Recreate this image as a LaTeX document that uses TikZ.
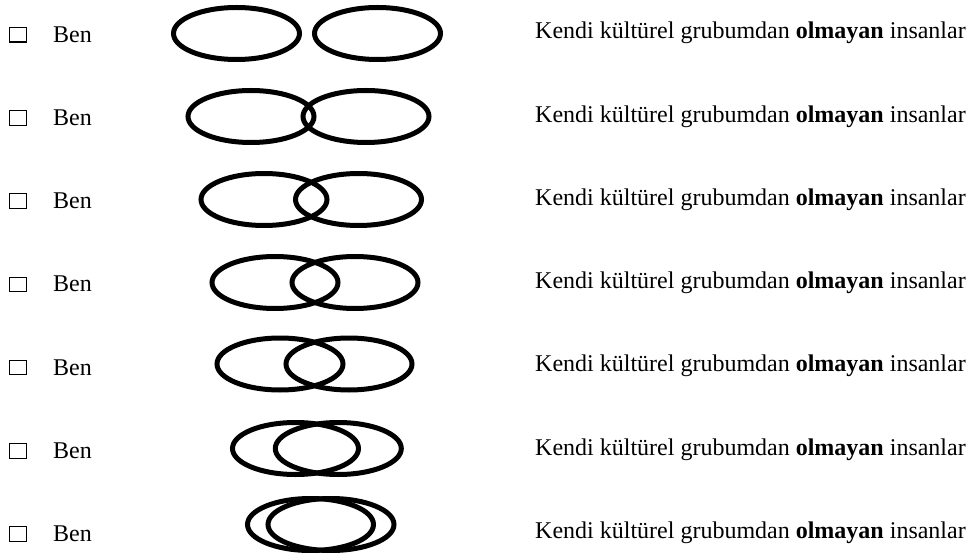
\documentclass[tikz,border=0pt]{standalone}
\usepackage{fontspec}
\setmainfont{Liberation Serif}
\usepackage{tikz}
\usetikzlibrary{shapes.geometric}

\begin{document}
\begin{tikzpicture}[x=1pt, y=-1pt, font=\fontsize{24}{28}\selectfont,
    ring/.style={ellipse, draw, line width=5pt, minimum width=126pt, minimum height=52pt, inner sep=0pt},
    tick/.style={draw, line width=1.1pt, minimum width=17pt, minimum height=14.5pt, inner sep=0pt},
    lbl/.style={anchor=base west, inner sep=0pt}]
      % scale: 1 unit = 1 pt, y grows downward
      \useasboundingbox (0,0) rectangle (974,553);
      % row 1: apart
      \node[tick] (box1) at (18, 34.8) {};
      \node[lbl] (me1) at (53, 42.3) {Ben};
      \node[ring] (selfA) at (236.5, 33.5) {};
      \node[ring] (othA) at (377.5, 33.5) {};
      \node[lbl] (them1) at (535, 39.0) {Kendi kültürel grubumdan \textbf{olmayan} insanlar};
      % row 2
      \node[tick] (box2) at (18, 118.0) {};
      \node[lbl] (me2) at (53, 125.5) {Ben};
      \node[ring] (selfB) at (251, 116.5) {};
      \node[ring] (othB) at (366, 116.5) {};
      \node[lbl] (them2) at (535, 122.2) {Kendi kültürel grubumdan \textbf{olmayan} insanlar};
      % row 3
      \node[tick] (box3) at (18, 201.2) {};
      \node[lbl] (me3) at (53, 208.7) {Ben};
      \node[ring] (selfC) at (264, 199.5) {};
      \node[ring] (othC) at (358.5, 199.5) {};
      \node[lbl] (them3) at (535, 205.4) {Kendi kültürel grubumdan \textbf{olmayan} insanlar};
      % row 4
      \node[tick] (box4) at (18, 284.4) {};
      \node[lbl] (me4) at (53, 291.9) {Ben};
      \node[ring] (selfD) at (275, 282.5) {};
      \node[ring] (othD) at (355, 282.5) {};
      \node[lbl] (them4) at (535, 288.6) {Kendi kültürel grubumdan \textbf{olmayan} insanlar};
      % row 5
      \node[tick] (box5) at (18, 367.6) {};
      \node[lbl] (me5) at (53, 375.1) {Ben};
      \node[ring] (selfE) at (280, 364) {};
      \node[ring] (othE) at (349, 364) {};
      \node[lbl] (them5) at (535, 371.8) {Kendi kültürel grubumdan \textbf{olmayan} insanlar};
      % row 6
      \node[tick] (box6) at (18, 450.8) {};
      \node[lbl] (me6) at (53, 458.3) {Ben};
      \node[ring] (selfF) at (295.5, 448.5) {};
      \node[ring] (othF) at (338.3, 448.5) {};
      \node[lbl] (them6) at (535, 455.0) {Kendi kültürel grubumdan \textbf{olmayan} insanlar};
      % row 7: nearly one
      \node[tick] (box7) at (18, 534.0) {};
      \node[lbl] (me7) at (53, 541.5) {Ben};
      \node[ring] (selfG) at (310.5, 524.5) {};
      \node[ring] (othG) at (331, 524.5) {};
      \node[lbl] (them7) at (535, 538.2) {Kendi kültürel grubumdan \textbf{olmayan} insanlar};
\end{tikzpicture}
\end{document}
